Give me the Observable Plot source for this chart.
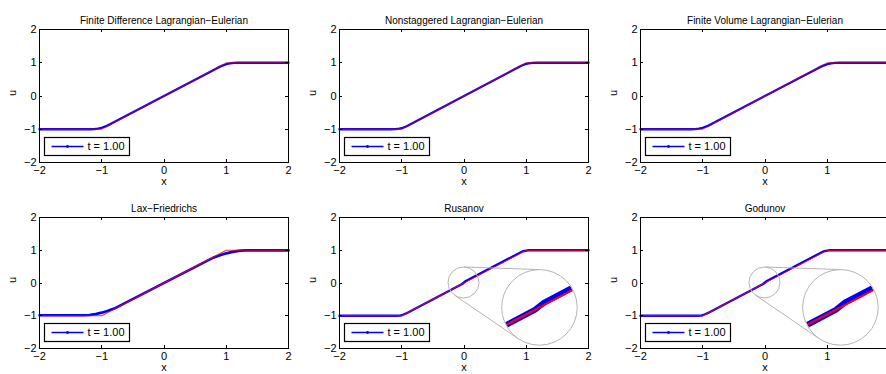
<!DOCTYPE html>
<html><head><meta charset="utf-8">
<script src="https://cdn.jsdelivr.net/npm/d3@7"></script>
<script src="https://cdn.jsdelivr.net/npm/@observablehq/plot@0.6"></script>
<style>
html,body{margin:0;padding:0;background:#fff;}
#chart{position:relative;width:886px;height:374px;overflow:hidden;background:#fff;}
#chart svg{position:absolute;overflow:visible;}
</style></head><body><div id="chart"></div>
<script>
// ---- data ----
const titles = [
  "Finite Difference Lagrangian\u2212Eulerian",
  "Nonstaggered Lagrangian\u2212Eulerian",
  "Finite Volume Lagrangian\u2212Eulerian",
  "Lax\u2212Friedrichs",
  "Rusanov",
  "Godunov"
];
const xTicks = [-2, -1, 0, 1, 2];
const xTickLabels = ["\u22122", "\u22121", "0", "1", "2"];
const yTicks = [-2, -1, 0, 1, 2];
const yTickLabels = ["\u22122", "\u22121", "0", "1", "2"];
const xLabel = "x";
const yLabel = "u";
const legendLabel = "t = 1.00";

// exact solution (red)
const exactX = [-2, -1, 1, 2];
const exactU = [-1, -1, 1, 1];

// numerical solutions (blue)
const fdleX = [-2, -1.2, -1.12, -1.06, -1.0, -0.94, -0.86, 0.86, 0.94, 1.0, 1.06, 1.12, 1.2, 2];
const fdleU = [-1, -1, -0.995, -0.98, -0.955, -0.915, -0.845, 0.845, 0.915, 0.955, 0.98, 0.995, 1, 1];
const nsleX = [-2, -1.18, -1.1, -1.04, -0.98, -0.92, -0.86, 0.86, 0.92, 0.98, 1.04, 1.1, 1.18, 2];
const nsleU = [-1, -1, -0.995, -0.98, -0.955, -0.91, -0.85, 0.85, 0.91, 0.955, 0.98, 0.995, 1, 1];
const fvleX = [-2, -1.2, -1.12, -1.06, -1.0, -0.94, -0.86, 0.86, 0.94, 1.0, 1.06, 1.12, 1.2, 2];
const fvleU = [-1, -1, -0.995, -0.98, -0.955, -0.915, -0.845, 0.845, 0.915, 0.955, 0.98, 0.995, 1, 1];
const lxfX = [-2, -1.3, -1.2, -1.1, -1.0, -0.9, -0.8, 0.8, 0.9, 1.0, 1.1, 1.2, 1.3, 2];
const lxfU = [-0.985, -0.985, -0.975, -0.95, -0.905, -0.85, -0.78, 0.78, 0.85, 0.905, 0.95, 0.98, 0.995, 0.995];
const rusX = [-2, -1.08, -1.03, -1.0, -0.97, -0.93, -0.03, 0.03, 0.93, 0.97, 1.0, 1.03, 1.08, 2];
const rusU = [-1, -1, -0.995, -0.985, -0.962, -0.93, -0.031, 0.06, 0.955, 0.978, 0.99, 0.998, 1, 1];
const godX = [-2, -1.08, -1.03, -1.0, -0.97, -0.93, -0.03, 0.03, 0.93, 0.97, 1.0, 1.03, 1.08, 2];
const godU = [-1, -1, -0.995, -0.985, -0.962, -0.93, -0.031, 0.062, 0.955, 0.978, 0.99, 0.998, 1, 1];

// ---- layout / style ----
const panels = [
  {nx: fdleX, nu: fdleU, bw: 2.3, rw: 1.4, ro: 0.5},
  {nx: nsleX, nu: nsleU, bw: 2.3, rw: 1.4, ro: 0.5},
  {nx: fvleX, nu: fvleU, bw: 2.3, rw: 1.4, ro: 0.5},
  {nx: lxfX, nu: lxfU, bw: 2.6, rw: 1.2, ro: 0.8},
  {nx: rusX, nu: rusU, bw: 2.4, rw: 0.9, ro: 1, inset: true},
  {nx: godX, nu: godU, bw: 2.4, rw: 0.9, ro: 1, inset: true}
];
const colLeft = [0, 300, 601];
const rowTop = [0, 188];
const rowHeight = [187, 185];
const zoomCenter = [0, 0];
const insetCenter = [1.22, -0.76];
const smallR = 15.5, bigR = 37.8;

function tickMark(index, scales, values, dim) {
  const g = d3.create("svg:g").attr("stroke", "#000").attr("stroke-width", 1);
  const {width, height, marginLeft: ml, marginRight: mr, marginTop: mt, marginBottom: mb} = dim;
  const L = 3;
  for (const t of xTicks) {
    const X = Math.round(scales.x(t)) + 0.5;
    g.append("line").attr("x1", X).attr("x2", X).attr("y1", height - mb).attr("y2", height - mb - L);
    g.append("line").attr("x1", X).attr("x2", X).attr("y1", mt).attr("y2", mt + L);
  }
  for (const t of yTicks) {
    const Y = Math.round(scales.y(t)) + 0.5;
    g.append("line").attr("x1", ml).attr("x2", ml + L).attr("y1", Y).attr("y2", Y);
    g.append("line").attr("x1", width - mr).attr("x2", width - mr - L).attr("y1", Y).attr("y2", Y);
  }
  return g.node();
}

function legendMark(index, scales, values, dim) {
  const x0 = dim.marginLeft + 5.5, yb = dim.height - dim.marginBottom - 6.5;
  const h = 18, w = 85;
  const g = d3.create("svg:g");
  g.append("rect").attr("x", x0).attr("y", yb - h).attr("width", w).attr("height", h)
    .attr("fill", "#fff").attr("stroke", "#000").attr("stroke-width", 1.2);
  const ym = yb - h / 2;
  g.append("line").attr("x1", x0 + 7).attr("x2", x0 + 39).attr("y1", ym).attr("y2", ym)
    .attr("stroke", "#0000ff").attr("stroke-width", 1.3);
  g.append("circle").attr("cx", x0 + 23).attr("cy", ym).attr("r", 1.4).attr("fill", "#0000ff");
  g.append("text").attr("x", x0 + 43).attr("y", ym).attr("dy", "0.35em")
    .attr("text-anchor", "start")
    .attr("font-size", 11).attr("fill", "#000").text(legendLabel);
  return g.node();
}

function makeInset(num, exact, id, bw, rw) {
  return (index, scales, values, dim) => {
    const sx = scales.x, sy = scales.y;
    const c1 = [sx(zoomCenter[0]), sy(zoomCenter[1])];
    const c2 = [sx(insetCenter[0]), sy(insetCenter[1])];
    const r1 = smallR, r2 = bigR, M = r2 / r1;
    const d = [c2[0] - c1[0], c2[1] - c1[1]], D = Math.hypot(d[0], d[1]);
    const u = [d[0] / D, d[1] / D], pu = [-u[1], u[0]];
    const a = (r2 - r1) / D, b = Math.sqrt(1 - a * a);
    const gray = "#b4b4b4";
    const g = d3.create("svg:g");
    g.append("circle").attr("cx", c1[0]).attr("cy", c1[1]).attr("r", r1)
      .attr("fill", "none").attr("stroke", gray).attr("stroke-width", 1);
    for (const s of [1, -1]) {
      const n = [a * u[0] + s * b * pu[0], a * u[1] + s * b * pu[1]];
      g.append("line")
        .attr("x1", c1[0] - r1 * n[0]).attr("y1", c1[1] - r1 * n[1])
        .attr("x2", c2[0] - r2 * n[0]).attr("y2", c2[1] - r2 * n[1])
        .attr("stroke", gray).attr("stroke-width", 1);
    }
    g.append("circle").attr("cx", c2[0]).attr("cy", c2[1]).attr("r", r2).attr("fill", "#fff");
    const cid = "clip-inset-" + id;
    g.append("clipPath").attr("id", cid).append("circle")
      .attr("cx", c2[0]).attr("cy", c2[1]).attr("r", r2 - 0.5);
    const zoom = pts => pts.map(p => [c2[0] + M * (sx(p.x) - c1[0]), c2[1] + M * (sy(p.u) - c1[1])]);
    const line = d3.line();
    const gc = g.append("g").attr("clip-path", `url(#${cid})`);
    gc.append("path").attr("d", line(zoom(num))).attr("fill", "none")
      .attr("stroke", "#0000ff").attr("stroke-width", bw * M).attr("stroke-linecap", "butt");
    gc.append("path").attr("d", line(zoom(exact))).attr("fill", "none")
      .attr("stroke", "#ff0000").attr("stroke-width", rw * M);
    g.append("circle").attr("cx", c2[0]).attr("cy", c2[1]).attr("r", r2)
      .attr("fill", "none").attr("stroke", gray).attr("stroke-width", 1);
    return g.node();
  };
}

const chart = document.getElementById("chart");
const exact = exactX.map((x, j) => ({x, u: exactU[j]}));

panels.forEach((p, i) => {
  const col = i % 3, row = Math.floor(i / 3);
  const num = p.nx.map((x, j) => ({x, u: p.nu[j]}));
  const marks = [
    Plot.line(num, {x: "x", y: "u", stroke: "#0000ff", strokeWidth: p.bw}),
    Plot.line(exact, {x: "x", y: "u", stroke: "#ff0000", strokeWidth: p.rw, strokeOpacity: p.ro}),
  ];
  if (p.inset) marks.push(makeInset(num, exact, i, p.bw, p.rw));
  marks.push(
    Plot.frame({stroke: "#000", strokeWidth: 1}),
    tickMark,
    legendMark,
    Plot.text([titles[i]], {frameAnchor: "top", dy: -13, fontSize: 10, text: d => d}),
    Plot.text([xLabel], {frameAnchor: "bottom", dy: 22, fontSize: 11, text: d => d}),
    Plot.text([yLabel], {frameAnchor: "left", dx: -27, rotate: -90, fontSize: 11, text: d => d})
  );
  const svg = Plot.plot({
    width: 300,
    height: rowHeight[row],
    marginLeft: 39, marginRight: 12, marginTop: 29, marginBottom: 25,
    style: {fontFamily: "'Liberation Sans', Arial, Helvetica, sans-serif", fontSize: "11px", background: "transparent", color: "#000", overflow: "visible"},
    x: {domain: [-2, 2], ticks: xTicks, tickFormat: d => xTickLabels[xTicks.indexOf(d)], tickSize: 0, tickPadding: 4, label: null},
    y: {domain: [-2, 2], ticks: yTicks, tickFormat: d => yTickLabels[yTicks.indexOf(d)], tickSize: 0, tickPadding: 3, label: null},
    marks
  });
  svg.style.left = colLeft[col] + "px";
  svg.style.top = rowTop[row] + "px";
  chart.appendChild(svg);
});
</script>
</body></html>
